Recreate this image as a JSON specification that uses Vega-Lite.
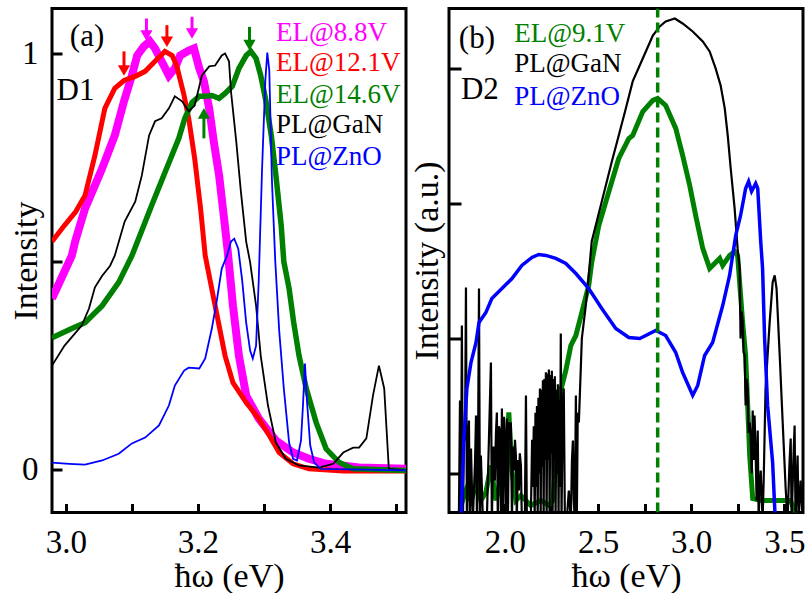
{
 "$schema": "https://vega.github.io/schema/vega-lite/v6.json",
 "background": "white",
 "padding": {"left": 7, "top": 6.5, "right": 0, "bottom": 0},
 "spacing": 43,
 "bounds": "flush",
 "config": {
  "font": "'Liberation Serif', 'Times New Roman', serif",
  "view": {"stroke": "black", "strokeWidth": 3},
  "axis": {"labelFont": "'Liberation Serif', 'Times New Roman', serif", "titleFont": "'Liberation Serif', 'Times New Roman', serif", "labelFontSize": 33, "titleFontSize": 34, "labelColor": "black", "titleColor": "black", "titleFontWeight": "normal", "domain": false, "grid": false, "tickColor": "black", "tickWidth": 3, "labelFlush": false, "labelOverlap": false},
  "text": {"font": "'Liberation Serif', 'Times New Roman', serif"}
 },
 "datasets": {
  "red": [{"x":2.979,"y":0.548},{"x":2.998,"y":0.587},{"x":3.015,"y":0.620},{"x":3.029,"y":0.659},{"x":3.044,"y":0.755},{"x":3.059,"y":0.868},{"x":3.074,"y":0.916},{"x":3.088,"y":0.935},{"x":3.105,"y":0.945},{"x":3.120,"y":0.957},{"x":3.135,"y":0.981},{"x":3.150,"y":1.005},{"x":3.161,"y":0.995},{"x":3.168,"y":0.969},{"x":3.179,"y":0.899},{"x":3.186,"y":0.844},{"x":3.195,"y":0.748},{"x":3.204,"y":0.627},{"x":3.211,"y":0.514},{"x":3.226,"y":0.394},{"x":3.241,"y":0.274},{"x":3.253,"y":0.209},{"x":3.273,"y":0.161},{"x":3.292,"y":0.123},{"x":3.308,"y":0.082},{"x":3.323,"y":0.041},{"x":3.344,"y":0.014},{"x":3.368,"y":0.002},{"x":3.42,"y":-0.003},{"x":3.515,"y":-0.003}],
  "mag": [{"x":2.979,"y":0.411},{"x":3.009,"y":0.514},{"x":3.014,"y":0.548},{"x":3.029,"y":0.627},{"x":3.055,"y":0.724},{"x":3.074,"y":0.803},{"x":3.088,"y":0.885},{"x":3.100,"y":0.947},{"x":3.108,"y":0.995},{"x":3.118,"y":1.017},{"x":3.127,"y":1.029},{"x":3.135,"y":1.012},{"x":3.145,"y":0.981},{"x":3.156,"y":0.947},{"x":3.165,"y":0.964},{"x":3.173,"y":0.995},{"x":3.186,"y":1.007},{"x":3.194,"y":1.012},{"x":3.202,"y":0.964},{"x":3.209,"y":0.933},{"x":3.217,"y":0.868},{"x":3.224,"y":0.788},{"x":3.232,"y":0.707},{"x":3.239,"y":0.611},{"x":3.245,"y":0.526},{"x":3.253,"y":0.394},{"x":3.262,"y":0.274},{"x":3.273,"y":0.178},{"x":3.292,"y":0.123},{"x":3.318,"y":0.070},{"x":3.344,"y":0.041},{"x":3.368,"y":0.026},{"x":3.394,"y":0.014},{"x":3.444,"y":0.005},{"x":3.515,"y":0.002}],
  "grn": [{"x":2.979,"y":0.317},{"x":3.009,"y":0.339},{"x":3.029,"y":0.353},{"x":3.055,"y":0.394},{"x":3.080,"y":0.450},{"x":3.100,"y":0.514},{"x":3.130,"y":0.635},{"x":3.150,"y":0.714},{"x":3.171,"y":0.796},{"x":3.180,"y":0.844},{"x":3.191,"y":0.882},{"x":3.202,"y":0.897},{"x":3.211,"y":0.897},{"x":3.221,"y":0.899},{"x":3.232,"y":0.892},{"x":3.241,"y":0.904},{"x":3.252,"y":0.921},{"x":3.262,"y":0.964},{"x":3.273,"y":0.995},{"x":3.280,"y":1.005},{"x":3.288,"y":0.988},{"x":3.295,"y":0.947},{"x":3.303,"y":0.885},{"x":3.311,"y":0.803},{"x":3.318,"y":0.707},{"x":3.326,"y":0.587},{"x":3.330,"y":0.500},{"x":3.338,"y":0.435},{"x":3.345,"y":0.353},{"x":3.353,"y":0.274},{"x":3.364,"y":0.195},{"x":3.379,"y":0.113},{"x":3.394,"y":0.050},{"x":3.414,"y":0.017},{"x":3.435,"y":0.002},{"x":3.515,"y":-0.002}],
  "blk": [{"x":2.979,"y":0.250},{"x":2.998,"y":0.298},{"x":3.024,"y":0.346},{"x":3.035,"y":0.387},{"x":3.044,"y":0.438},{"x":3.055,"y":0.466},{"x":3.067,"y":0.490},{"x":3.074,"y":0.514},{"x":3.089,"y":0.596},{"x":3.105,"y":0.644},{"x":3.115,"y":0.707},{"x":3.126,"y":0.803},{"x":3.135,"y":0.837},{"x":3.145,"y":0.844},{"x":3.156,"y":0.868},{"x":3.165,"y":0.897},{"x":3.176,"y":0.885},{"x":3.186,"y":0.861},{"x":3.195,"y":0.875},{"x":3.206,"y":0.947},{"x":3.217,"y":0.969},{"x":3.226,"y":0.971},{"x":3.236,"y":0.995},{"x":3.241,"y":1.000},{"x":3.247,"y":0.981},{"x":3.250,"y":0.909},{"x":3.258,"y":0.788},{"x":3.265,"y":0.668},{"x":3.273,"y":0.548},{"x":3.279,"y":0.498},{"x":3.288,"y":0.394},{"x":3.295,"y":0.274},{"x":3.306,"y":0.154},{"x":3.318,"y":0.065},{"x":3.333,"y":0.026},{"x":3.353,"y":0.010},{"x":3.383,"y":0.005},{"x":3.405,"y":0.014},{"x":3.420,"y":0.041},{"x":3.435,"y":0.053},{"x":3.444,"y":0.053},{"x":3.455,"y":0.075},{"x":3.465,"y":0.178},{"x":3.474,"y":0.250},{"x":3.482,"y":0.195},{"x":3.489,"y":0.002},{"x":3.515,"y":-0.002}],
  "blu": [{"x":2.979,"y":0.017},{"x":3.005,"y":0.014},{"x":3.029,"y":0.012},{"x":3.055,"y":0.022},{"x":3.080,"y":0.038},{"x":3.100,"y":0.063},{"x":3.120,"y":0.077},{"x":3.141,"y":0.106},{"x":3.156,"y":0.154},{"x":3.165,"y":0.202},{"x":3.179,"y":0.238},{"x":3.186,"y":0.245},{"x":3.202,"y":0.243},{"x":3.211,"y":0.267},{"x":3.221,"y":0.339},{"x":3.229,"y":0.411},{"x":3.236,"y":0.483},{"x":3.244,"y":0.514},{"x":3.250,"y":0.548},{"x":3.255,"y":0.555},{"x":3.261,"y":0.531},{"x":3.267,"y":0.454},{"x":3.273,"y":0.353},{"x":3.279,"y":0.286},{"x":3.283,"y":0.267},{"x":3.288,"y":0.298},{"x":3.292,"y":0.454},{"x":3.297,"y":0.719},{"x":3.302,"y":0.935},{"x":3.305,"y":1.002},{"x":3.308,"y":0.959},{"x":3.312,"y":0.695},{"x":3.317,"y":0.502},{"x":3.323,"y":0.334},{"x":3.330,"y":0.195},{"x":3.338,"y":0.065},{"x":3.344,"y":0.026},{"x":3.350,"y":0.022},{"x":3.356,"y":0.070},{"x":3.359,"y":0.154},{"x":3.362,"y":0.255},{"x":3.365,"y":0.166},{"x":3.370,"y":0.058},{"x":3.376,"y":0.017},{"x":3.386,"y":0.002},{"x":3.515,"y":-0.002}],
  "arr": [{"x":3.088,"y":1.005,"y2":0.959,"c":"r","d":"down"},{"x":3.122,"y":1.084,"y2":1.043,"c":"m","d":"down"},{"x":3.153,"y":1.068,"y2":1.028,"c":"r","d":"down"},{"x":3.191,"y":1.088,"y2":1.048,"c":"m","d":"down"},{"x":3.278,"y":1.064,"y2":1.020,"c":"g","d":"down"},{"x":3.209,"y":0.796,"y2":0.856,"c":"g","d":"up"}],
  "lt": [{"t":"EL@8.8V","x":3.318,"y":1.031,"c":"m"},{"t":"EL@12.1V","x":3.318,"y":0.957,"c":"r"},{"t":"EL@14.6V","x":3.318,"y":0.882,"c":"g"},{"t":"PL@GaN","x":3.318,"y":0.808,"c":"k"},{"t":"PL@ZnO","x":3.318,"y":0.733,"c":"b"}],
  "lt2": [{"t":"(a)","x":3.006,"y":1.017,"c":"k"},{"t":"D1","x":2.986,"y":0.887,"c":"k"}],
  "g2": [{"x":1.764,"y":-0.237},{"x":1.791,"y":-0.126},{"x":1.818,"y":-0.2},{"x":1.845,"y":-0.089},{"x":1.871,"y":-0.2},{"x":1.898,"y":-0.141},{"x":1.925,"y":0.059},{"x":1.952,"y":-0.2},{"x":1.979,"y":-0.052},{"x":2.005,"y":0.022},{"x":2.021,"y":0.452},{"x":2.038,"y":0.022},{"x":2.059,"y":-0.2},{"x":2.086,"y":-0.163},{"x":2.139,"y":-0.237},{"x":2.193,"y":-0.2},{"x":2.236,"y":-0.237},{"x":2.257,"y":-0.2},{"x":2.279,"y":0.17},{"x":2.3,"y":0.615},{"x":2.327,"y":0.763},{"x":2.354,"y":0.948},{"x":2.381,"y":1.022},{"x":2.413,"y":1.193},{"x":2.45,"y":1.393},{"x":2.466,"y":1.563},{"x":2.504,"y":1.837},{"x":2.558,"y":2.089},{"x":2.611,"y":2.333},{"x":2.665,"y":2.481},{"x":2.686,"y":2.504},{"x":2.74,"y":2.681},{"x":2.794,"y":2.763},{"x":2.82,"y":2.778},{"x":2.863,"y":2.726},{"x":2.917,"y":2.556},{"x":2.954,"y":2.356},{"x":2.992,"y":2.133},{"x":3.024,"y":1.911},{"x":3.062,"y":1.667},{"x":3.099,"y":1.519},{"x":3.131,"y":1.563},{"x":3.153,"y":1.593},{"x":3.169,"y":1.541},{"x":3.206,"y":1.615},{"x":3.233,"y":1.644},{"x":3.249,"y":1.615},{"x":3.276,"y":1.119},{"x":3.292,"y":0.874},{"x":3.303,"y":0.504},{"x":3.314,"y":0.133},{"x":3.33,"y":-0.185},{"x":3.373,"y":-0.2},{"x":3.426,"y":-0.2},{"x":3.48,"y":-0.2},{"x":3.534,"y":-0.2},{"x":3.56,"y":-0.3}],
  "k2": [{"x":1.753,"y":-0.348},{"x":1.759,"y":0.541},{"x":1.764,"y":-0.348},{"x":1.769,"y":1.096},{"x":1.775,"y":-0.348},{"x":1.78,"y":0.3},{"x":1.786,"y":0.244},{"x":1.791,"y":1.378},{"x":1.796,"y":-0.348},{"x":1.802,"y":0.2},{"x":1.807,"y":0.393},{"x":1.812,"y":-0.348},{"x":1.818,"y":0.185},{"x":1.823,"y":-0.1},{"x":1.828,"y":-0.348},{"x":1.84,"y":0.1},{"x":1.845,"y":0.43},{"x":1.85,"y":-0.348},{"x":1.856,"y":0.2},{"x":1.861,"y":1.37},{"x":1.866,"y":-0.348},{"x":1.871,"y":0.133},{"x":1.882,"y":-0.348},{"x":1.903,"y":-0.348},{"x":1.925,"y":0.822},{"x":1.93,"y":-0.348},{"x":1.938,"y":0.2},{"x":1.946,"y":-0.052},{"x":1.952,"y":0.3},{"x":1.957,"y":0.452},{"x":1.962,"y":-0.348},{"x":1.968,"y":0.35},{"x":1.973,"y":0.319},{"x":1.979,"y":-0.348},{"x":1.984,"y":0.481},{"x":1.989,"y":-0.348},{"x":1.995,"y":0.42},{"x":2.0,"y":0.244},{"x":2.005,"y":-0.348},{"x":2.011,"y":0.407},{"x":2.016,"y":-0.348},{"x":2.022,"y":0.38},{"x":2.027,"y":0.319},{"x":2.032,"y":0.378},{"x":2.038,"y":-0.348},{"x":2.043,"y":0.2},{"x":2.048,"y":0.022},{"x":2.054,"y":0.25},{"x":2.059,"y":0.133},{"x":2.064,"y":-0.348},{"x":2.07,"y":0.1},{"x":2.075,"y":-0.126},{"x":2.08,"y":0.15},{"x":2.086,"y":0.059},{"x":2.091,"y":-0.348},{"x":2.107,"y":-0.348},{"x":2.113,"y":0.578},{"x":2.118,"y":-0.348},{"x":2.139,"y":-0.348},{"x":2.146,"y":0.25},{"x":2.15,"y":-0.1},{"x":2.155,"y":0.35},{"x":2.16,"y":-0.348},{"x":2.164,"y":0.45},{"x":2.168,"y":-0.1},{"x":2.172,"y":0.5},{"x":2.176,"y":-0.348},{"x":2.18,"y":0.56},{"x":2.184,"y":0.0},{"x":2.188,"y":0.63},{"x":2.192,"y":-0.348},{"x":2.196,"y":0.62},{"x":2.2,"y":0.05},{"x":2.204,"y":0.69},{"x":2.208,"y":-0.348},{"x":2.212,"y":0.7},{"x":2.216,"y":0.1},{"x":2.22,"y":0.75},{"x":2.224,"y":-0.348},{"x":2.228,"y":0.74},{"x":2.232,"y":0.1},{"x":2.236,"y":0.77},{"x":2.24,"y":-0.348},{"x":2.244,"y":0.73},{"x":2.248,"y":0.15},{"x":2.252,"y":0.76},{"x":2.256,"y":-0.348},{"x":2.26,"y":0.7},{"x":2.264,"y":0.1},{"x":2.268,"y":0.72},{"x":2.272,"y":-0.348},{"x":2.276,"y":0.62},{"x":2.28,"y":0.0},{"x":2.284,"y":0.66},{"x":2.288,"y":-0.348},{"x":2.292,"y":0.55},{"x":2.296,"y":-0.1},{"x":2.3,"y":1.037},{"x":2.304,"y":-0.348},{"x":2.31,"y":0.5},{"x":2.316,"y":0.63},{"x":2.322,"y":-0.348},{"x":2.332,"y":-0.348},{"x":2.343,"y":-0.126},{"x":2.354,"y":-0.348},{"x":2.36,"y":0.1},{"x":2.365,"y":0.244},{"x":2.37,"y":-0.2},{"x":2.375,"y":-0.348},{"x":2.381,"y":0.578},{"x":2.386,"y":-0.348},{"x":2.391,"y":0.45},{"x":2.397,"y":0.378},{"x":2.413,"y":1.0},{"x":2.434,"y":1.244},{"x":2.45,"y":1.467},{"x":2.466,"y":1.719},{"x":2.52,"y":2.015},{"x":2.574,"y":2.311},{"x":2.611,"y":2.504},{"x":2.649,"y":2.704},{"x":2.686,"y":2.904},{"x":2.74,"y":3.074},{"x":2.794,"y":3.244},{"x":2.831,"y":3.311},{"x":2.863,"y":3.348},{"x":2.912,"y":3.37},{"x":2.954,"y":3.333},{"x":3.008,"y":3.274},{"x":3.062,"y":3.2},{"x":3.099,"y":3.126},{"x":3.131,"y":3.0},{"x":3.158,"y":2.874},{"x":3.18,"y":2.704},{"x":3.196,"y":2.504},{"x":3.212,"y":2.259},{"x":3.233,"y":1.963},{"x":3.249,"y":1.667},{"x":3.26,"y":1.519},{"x":3.265,"y":1.0},{"x":3.27,"y":1.2},{"x":3.276,"y":1.133},{"x":3.281,"y":0.9},{"x":3.287,"y":0.874},{"x":3.292,"y":0.504},{"x":3.298,"y":0.7},{"x":3.303,"y":0.63},{"x":3.308,"y":0.3},{"x":3.314,"y":0.378},{"x":3.319,"y":0.259},{"x":3.325,"y":0.0},{"x":3.33,"y":0.467},{"x":3.335,"y":0.1},{"x":3.34,"y":0.43},{"x":3.346,"y":0.133},{"x":3.351,"y":-0.2},{"x":3.357,"y":0.319},{"x":3.362,"y":-0.348},{"x":3.367,"y":-0.111},{"x":3.373,"y":0.022},{"x":3.383,"y":-0.348},{"x":3.389,"y":-0.052},{"x":3.399,"y":0.63},{"x":3.421,"y":1.119},{"x":3.437,"y":1.415},{"x":3.448,"y":1.467},{"x":3.458,"y":1.37},{"x":3.475,"y":0.874},{"x":3.491,"y":0.378},{"x":3.507,"y":-0.111},{"x":3.517,"y":-0.348},{"x":3.528,"y":0.096},{"x":3.534,"y":0.259},{"x":3.539,"y":-0.348},{"x":3.55,"y":0.17},{"x":3.555,"y":0.356},{"x":3.56,"y":-0.348},{"x":3.571,"y":0.133},{"x":3.576,"y":-0.348},{"x":3.587,"y":-0.052},{"x":3.598,"y":-0.348}],
  "b2": [{"x":1.764,"y":-0.35},{"x":1.78,"y":0.259},{"x":1.796,"y":0.63},{"x":1.818,"y":0.822},{"x":1.845,"y":0.97},{"x":1.861,"y":1.119},{"x":1.898,"y":1.193},{"x":1.93,"y":1.296},{"x":1.984,"y":1.37},{"x":2.038,"y":1.444},{"x":2.091,"y":1.541},{"x":2.145,"y":1.6},{"x":2.182,"y":1.622},{"x":2.22,"y":1.615},{"x":2.273,"y":1.593},{"x":2.327,"y":1.556},{"x":2.381,"y":1.481},{"x":2.45,"y":1.37},{"x":2.52,"y":1.222},{"x":2.595,"y":1.074},{"x":2.665,"y":1.007},{"x":2.724,"y":1.0},{"x":2.81,"y":1.059},{"x":2.863,"y":1.022},{"x":2.917,"y":0.896},{"x":2.954,"y":0.748},{"x":2.992,"y":0.63},{"x":3.008,"y":0.578},{"x":3.035,"y":0.652},{"x":3.072,"y":0.874},{"x":3.115,"y":0.97},{"x":3.169,"y":1.244},{"x":3.206,"y":1.467},{"x":3.239,"y":1.763},{"x":3.265,"y":1.911},{"x":3.292,"y":2.111},{"x":3.308,"y":2.163},{"x":3.324,"y":2.089},{"x":3.346,"y":2.148},{"x":3.357,"y":2.111},{"x":3.373,"y":1.719},{"x":3.383,"y":1.519},{"x":3.394,"y":1.0},{"x":3.41,"y":0.504},{"x":3.437,"y":0.081},{"x":3.453,"y":-0.4}],
  "dash": [{"x":2.82,"y":-0.289,"y2":3.444}],
  "rt": [{"t":"EL@9.1V","x":2.05,"y":3.198,"c":"g"},{"t":"PL@GaN","x":2.05,"y":2.975,"c":"k"},{"t":"PL@ZnO","x":2.05,"y":2.728,"c":"b"}],
  "rt2": [{"t":"(b)","x":1.753,"y":3.148,"c":"k"},{"t":"D2","x":1.764,"y":2.773,"c":"k"}]
 },
 "hconcat": [
  {
   "width": 354, "height": 504,
   "encoding": {
    "x": {"field": "x", "type": "quantitative", "scale": {"domain": [2.979, 3.515], "nice": false, "zero": false},
     "axis": {"title": "ħω (eV)", "values": [3.0, 3.1, 3.2, 3.3, 3.4, 3.5], "labelExpr": "(round(datum.value*10)%2==0) ? format(datum.value,'.1f') : ''", "tickSize": -9, "labelPadding": 23, "titleY": 74, "titleBaseline": "alphabetic"}},
    "y": {"field": "y", "type": "quantitative", "scale": {"domain": [-0.103, 1.108], "nice": false, "zero": false},
     "axis": {"title": "Intensity", "values": [0, 0.5, 1], "labelExpr": "datum.value==0 ? '0' : (datum.value==1 ? '1' : '')", "tickSize": -10, "labelPadding": 24, "titleX": -16, "titleBaseline": "alphabetic"}}
   },
   "layer": [
    {"data": {"name": "mag"}, "mark": {"type": "line", "color": "#ff00ff", "strokeWidth": 8, "clip": true}},
    {"data": {"name": "red"}, "mark": {"type": "line", "color": "#ff0000", "strokeWidth": 5, "clip": true}},
    {"data": {"name": "grn"}, "mark": {"type": "line", "color": "#008000", "strokeWidth": 5.5, "clip": true}},
    {"data": {"name": "blk"}, "mark": {"type": "line", "color": "#000000", "strokeWidth": 1.8, "clip": true}},
    {"data": {"name": "blu"}, "mark": {"type": "line", "color": "#0000ff", "strokeWidth": 1.8, "clip": true}},
    {"data": {"name": "arr"}, "mark": {"type": "rule", "strokeWidth": 3},
     "encoding": {"y2": {"field": "y2"}, "color": {"field": "c", "type": "nominal", "scale": {"domain": ["m","r","g","k","b"], "range": ["#ff00ff","#ff0000","#008000","#000000","#0000ff"]}, "legend": null}}},
    {"data": {"name": "arr"}, "mark": {"type": "point", "filled": true, "opacity": 1, "size": 150},
     "encoding": {"y": {"field": "y2", "type": "quantitative"}, "shape": {"field": "d", "type": "nominal", "scale": {"domain": ["down","up"], "range": ["triangle-down","triangle-up"]}, "legend": null}, "color": {"field": "c", "type": "nominal", "legend": null}}},
    {"data": {"name": "lt"}, "mark": {"type": "text", "align": "left", "baseline": "alphabetic", "fontSize": 27},
     "encoding": {"text": {"field": "t"}, "color": {"field": "c", "type": "nominal", "legend": null}}},
    {"data": {"name": "lt2"}, "mark": {"type": "text", "align": "left", "baseline": "alphabetic", "fontSize": 31},
     "encoding": {"text": {"field": "t"}, "color": {"field": "c", "type": "nominal", "legend": null}}}
   ]
  },
  {
   "width": 354, "height": 504,
   "encoding": {
    "x": {"field": "x", "type": "quantitative", "scale": {"domain": [1.70, 3.60], "nice": false, "zero": false},
     "axis": {"title": "ħω (eV)", "values": [2.0, 2.25, 2.5, 2.75, 3.0, 3.25, 3.5], "labelExpr": "(round(datum.value*4)%2==0) ? format(datum.value,'.1f') : ''", "tickSize": -9, "labelPadding": 23, "titleY": 74, "titleBaseline": "alphabetic"}},
    "y": {"field": "y", "type": "quantitative", "scale": {"domain": [-0.289, 3.444], "nice": false, "zero": false},
     "axis": {"title": "Intensity (a.u.)", "values": [0, 1, 2, 3], "labels": false, "tickSize": -12, "titleX": -12, "titleBaseline": "alphabetic"}}
   },
   "layer": [
    {"data": {"name": "g2"}, "mark": {"type": "line", "color": "#008000", "strokeWidth": 5, "clip": true}},
    {"data": {"name": "k2"}, "mark": {"type": "line", "color": "#000000", "strokeWidth": 2.2, "clip": true}},
    {"data": {"name": "b2"}, "mark": {"type": "line", "color": "#0000ff", "strokeWidth": 3.5, "clip": true}},
    {"data": {"name": "dash"}, "mark": {"type": "rule", "color": "#008000", "strokeWidth": 3.5, "strokeDash": [10, 5], "clip": true},
     "encoding": {"y2": {"field": "y2"}}},
    {"data": {"name": "rt"}, "mark": {"type": "text", "align": "left", "baseline": "alphabetic", "fontSize": 27},
     "encoding": {"text": {"field": "t"}, "color": {"field": "c", "type": "nominal", "scale": {"domain": ["m","r","g","k","b"], "range": ["#ff00ff","#ff0000","#008000","#000000","#0000ff"]}, "legend": null}}},
    {"data": {"name": "rt2"}, "mark": {"type": "text", "align": "left", "baseline": "alphabetic", "fontSize": 31},
     "encoding": {"text": {"field": "t"}, "color": {"field": "c", "type": "nominal", "legend": null}}}
   ]
  }
 ]
}
